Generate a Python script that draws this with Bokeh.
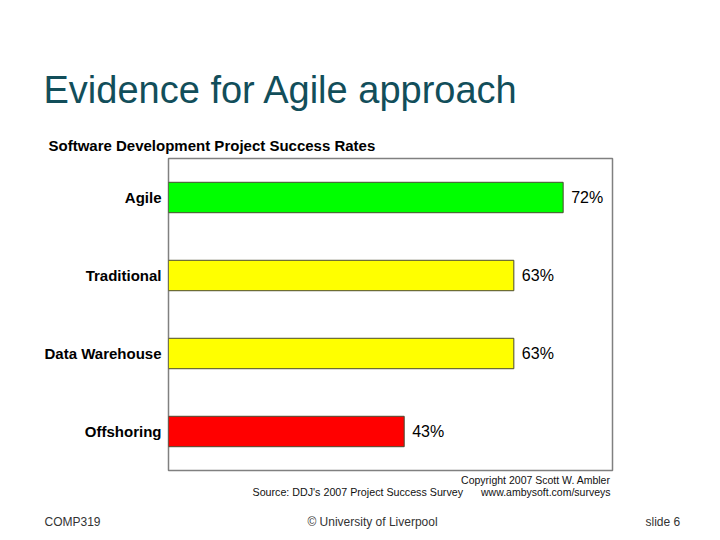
from bokeh.plotting import figure
from bokeh.models import ColumnDataSource, FactorRange, Range1d, LabelSet
from bokeh.layouts import column, row
from bokeh.core.properties import value
from bokeh.embed import file_html
from bokeh.resources import INLINE

categories = ["Agile", "Traditional", "Data Warehouse", "Offshoring"]
values = [72, 63, 63, 43]
colors = ["#00FF00", "#FFFF00", "#FFFF00", "#FF0000"]
value_labels = ["72%", "63%", "63%", "43%"]

slide_title = "Evidence for Agile approach"
chart_title = "Software Development Project Success Rates"
copyright_txt = "Copyright 2007 Scott W. Ambler"
source_txt = "Source: DDJ's 2007 Project Success Survey"
url_txt = "www.ambysoft.com/surveys"
footer_left = "COMP319"
footer_mid = "© University of Liverpool"
footer_right = "slide  6"

W = 704
FONT = "Liberation Sans"


def text_fig(h):
    f = figure(width=W, height=h, output_backend="svg", toolbar_location=None,
               x_range=Range1d(0, W), y_range=Range1d(h, 0),
               x_axis_type=None, y_axis_type=None,
               min_border=0, min_border_left=0, min_border_right=0,
               min_border_top=0, min_border_bottom=0)
    f.grid.visible = False
    f.outline_line_color = None
    f.background_fill_color = "white"
    f.border_fill_color = "white"
    return f


def txt(f, x, y, t, size, color="#000000", style="normal", align="left"):
    f.text(x=[x], y=[y], text=[t], text_font=value(FONT), text_font_size=size,
           text_color=color, text_font_style=style, text_align=align,
           text_baseline="middle")


# top
top = text_fig(156)
txt(top, 43, 89, slide_title, "38px", color="#124E5A")
txt(top, 48, 145, chart_title, "15px", style="bold")

# main chart
p = figure(width=W, height=316, output_backend="svg", toolbar_location=None,
           y_range=FactorRange(factors=categories[::-1], range_padding=0),
           x_range=Range1d(0, 81),
           min_border_left=168, min_border_right=92,
           min_border_top=2, min_border_bottom=2)
p.xaxis.visible = False
p.yaxis.axis_line_color = None
p.yaxis.major_tick_line_color = None
p.yaxis.minor_tick_line_color = None
p.yaxis.major_label_text_font = FONT
p.yaxis.major_label_text_font_style = "bold"
p.yaxis.major_label_text_font_size = "15px"
p.yaxis.major_label_text_color = "#000000"
p.yaxis.major_label_standoff = 1
p.grid.visible = False
p.outline_line_color = "#808080"
p.outline_line_width = 1.5
p.background_fill_color = "white"
p.border_fill_color = "white"

src = ColumnDataSource(dict(cat=categories, val=values, color=colors, lab=value_labels))
p.hbar(y="cat", right="val", left=0, height=0.39, fill_color="color",
       line_color="#4a4a30", line_width=1, source=src)
p.add_layout(LabelSet(x="val", y="cat", text="lab", source=src, x_offset=8, y_offset=0,
                      text_font=value(FONT), text_font_size="16px",
                      text_baseline="middle", text_color="#000000"))

# bottom
bot = text_fig(60)
txt(bot, 610, 7, copyright_txt, "10.5px", color="#111111", align="right")
txt(bot, 252, 19, source_txt, "10.7px", color="#111111")
txt(bot, 610, 19, url_txt, "10.5px", color="#111111", align="right")
txt(bot, 44, 49, footer_left, "12px", color="#333333")
txt(bot, 372, 49, footer_mid, "12px", color="#333333", align="center")
txt(bot, 683, 49, footer_right, "12px", color="#333333", align="right")

layout = column(row(top), row(p), row(bot), spacing=0)
open("out.html", "w").write(file_html(layout, INLINE))
